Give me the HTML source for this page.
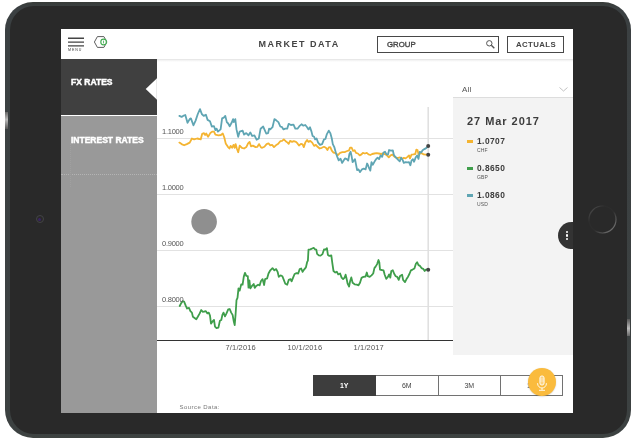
<!DOCTYPE html>
<html><head><meta charset="utf-8"><title>Market Data</title>
<style>
*{margin:0;padding:0;box-sizing:border-box}
html,body{width:637px;height:442px;background:#fff;overflow:hidden;font-family:"Liberation Sans",sans-serif}
.abs{position:absolute}
#tablet{position:absolute;left:5px;top:1.5px;width:626px;height:436.5px;border-radius:28px;background:linear-gradient(#373b38,#3b4042 6px,#3c4141 430px,#3e4341)}
#tabin{position:absolute;left:9.5px;top:6px;width:617px;height:427.5px;border-radius:24px;background:#292929}
#screen{position:absolute;left:61px;top:29px;width:512px;height:384px;background:#fff;overflow:hidden;will-change:transform;filter:opacity(0.9999)}
.t{position:absolute;white-space:nowrap;line-height:1}
.ylab{letter-spacing:-0.25px}
</style></head><body>
<div id="tablet"></div><div id="tabin"></div>
<!-- side buttons highlights -->
<div class="abs" style="left:5px;top:112px;width:3px;height:17px;background:linear-gradient(#666,#bbb 45%,#555)"></div>
<div class="abs" style="left:627px;top:319px;width:3px;height:17px;background:linear-gradient(#555,#bbb 55%,#666)"></div>
<!-- camera -->
<div class="abs" style="left:35.5px;top:215.4px;width:8px;height:8px;border-radius:50%;border:1.2px solid #434346"></div>
<div class="abs" style="left:38px;top:217.9px;width:3px;height:3px;border-radius:50%;background:#3a2366"></div>
<!-- home button -->
<svg class="abs" style="left:585px;top:202px" width="36" height="36" viewBox="0 0 36 36"><defs><linearGradient id="hb" x1="0" y1="0" x2="1" y2="1"><stop offset="0" stop-color="#5a5a5a"/><stop offset="0.3" stop-color="#2c2c2c"/><stop offset="0.55" stop-color="#2c2c2c"/><stop offset="1" stop-color="#8a8a8a"/></linearGradient></defs><circle cx="17.5" cy="17.5" r="13.5" fill="none" stroke="url(#hb)" stroke-width="1.2"/></svg>

<div id="screen">
  <!-- header -->
  <div class="abs" style="left:96px;top:30px;width:416px;height:3px;background:linear-gradient(#e2e2e2,#f4f4f4 50%,#fff)"></div>
  <svg class="abs" style="left:7px;top:7px" width="16" height="12" viewBox="0 0 16 12"><path d="M0 2.2 H16 M0 6.15 H16 M0 9.9 H16" stroke="#444" stroke-width="1.35"/></svg>
  <div class="t" style="left:7px;top:19.8px;font-size:3.6px;letter-spacing:0.9px;color:#3a3a3a">MENU</div>
  <svg class="abs" style="left:32px;top:6px" width="16" height="14" viewBox="0 0 16 14"><path d="M1.4 7 L4.4 1.6 H10.9 L13.9 7 L10.9 12.4 H4.4 Z" fill="none" stroke="#555" stroke-width="0.95"/><circle cx="10.6" cy="7" r="2.8" fill="#fff" stroke="#43ad52" stroke-width="1.15"/><rect x="10.2" y="5.6" width="0.8" height="2.8" fill="#43ad52"/></svg>
  <div class="t" style="left:197.5px;top:10.5px;font-size:9px;font-weight:bold;letter-spacing:1.5px;color:#444">MARKET DATA</div>
  <div class="abs" style="left:315.5px;top:7px;width:122px;height:17px;border:1.4px solid #484848"></div>
  <div class="t" style="left:326px;top:11.6px;font-size:7.8px;letter-spacing:0px;color:#444;-webkit-text-stroke:0.35px #444">GROUP</div>
  <svg class="abs" style="left:424px;top:10px" width="11" height="11" viewBox="0 0 11 11"><circle cx="4.3" cy="4.3" r="2.7" fill="none" stroke="#555" stroke-width="1"/><path d="M6.3 6.3 L9.3 9.3" stroke="#555" stroke-width="1.4"/></svg>
  <div class="abs" style="left:445.5px;top:7px;width:57.5px;height:17px;border:1.4px solid #484848"></div>
  <div class="t" style="left:455px;top:11.6px;font-size:7.8px;font-weight:bold;letter-spacing:0.4px;color:#444">ACTUALS</div>

  <!-- sidebar -->
  <div class="abs" style="left:0;top:29.8px;width:96px;height:56.7px;background:#404040"></div>
  <div class="abs" style="left:0;top:86.5px;width:96px;height:298px;background:#999"></div>
  <div class="abs" style="left:0;top:144.5px;width:96px;height:0;border-top:1px dotted #b4b4b4"></div>
  <div class="abs" style="left:9px;top:114px;width:0;height:44px;border-left:1px dotted #a0a0a0"></div>
  <div class="t" style="left:10px;top:48.7px;font-size:8.5px;font-weight:bold;color:#fff;letter-spacing:0.02px;-webkit-text-stroke:0.45px #fff">FX RATES</div>
  <div class="t" style="left:10px;top:106.7px;font-size:8.5px;font-weight:bold;color:#fff;letter-spacing:0px;-webkit-text-stroke:0.45px #fff">INTEREST RATES</div>
  <svg class="abs" style="left:84px;top:49px" width="12" height="22" viewBox="0 0 12 22"><path d="M12 0.3 L0.7 11 L12 21.7 Z" fill="#fff"/><path d="M11.6 1 V21" stroke="#d8d8d8" stroke-width="0.6"/></svg>

  <!-- chart -->
  <svg class="abs" style="left:-61px;top:-29px" width="637" height="442" viewBox="0 0 637 442">
    <g stroke="#e2e2e2" stroke-width="1">
      <path d="M157 138.5 H453 M157 194.5 H453 M157 250.5 H453 M157 306.5 H453"/>
    </g>
    <path d="M428.2 107 V340" stroke="#dfdfdf" stroke-width="1.5"/>
    <path d="M157 340.5 H453" stroke="#333" stroke-width="1.2"/>
    <circle cx="204.1" cy="221.7" r="12.8" fill="#8f8f8f"/>
    <g fill="none" stroke-width="1.8" stroke-linejoin="round" stroke-linecap="round">
      <path d="M179.4,142.6 L181.6,144.1 L184.1,145.3 L186.8,144.1 L189.7,142.6 L191.9,138.5 L194.1,139.4 L197.1,138.5 L199.3,139.0 L200.7,139.4 L202.2,133.8 L204,133.1 L205.1,135 L206.2,133.5 L208.1,136.8 L210.3,133.1 L212.5,131.6 L214,131.6 L215.4,134.6 L218.4,135.3 L220.9,135 L222.8,133.5 L224.3,137.5 L225.7,143.4 L227.9,146.8 L229.4,148.5 L230.6,145.9 L232.1,147.8 L233.5,144.9 L234.6,147.8 L235.6,144.1 L236.8,148.5 L238.2,152.2 L239.7,145.6 L241.9,147.8 L244.1,148.5 L246.3,147.1 L248.1,143.4 L249.6,141.9 L251,146.3 L252.9,145.6 L255.6,147.1 L257.4,146.8 L259.1,144.1 L261,147.4 L262.2,147.8 L264.4,146.8 L266.6,144.1 L268.5,143.4 L270.3,145.3 L272.1,144.9 L274,147.1 L275.9,145.3 L277.9,144.1 L280.3,141.2 L282.1,140.9 L283.8,139.4 L285.7,141.2 L287.6,142.6 L288.7,143.8 L290.1,140.9 L292.1,141.9 L293.8,141.2 L296,141.9 L297.5,143.4 L299,145.6 L300.9,143.8 L302.6,144.4 L303.8,147.1 L305.3,142.6 L307.1,140 L308.5,141.9 L310.3,140.9 L312.2,142.6 L314.1,145.9 L315.9,144.9 L317.6,146.8 L319.6,148.5 L321.8,147.8 L324,146.8 L325.9,147.8 L327.4,150 L328.8,147.4 L330.3,147.1 L331.8,150.7 L333.5,152.6 L335.7,153.2 L337.9,155.1 L340.1,152.9 L342.4,152.2 L344.6,152.2 L346.0,151.5 L347.2,151 L349.1,150.3 L350.1,147.6 L351.6,147.6 L353.1,151 L354.6,150.3 L356,152.9 L357.9,153.5 L359.7,155.4 L361.5,154.4 L362.9,152.9 L364.9,153.5 L366.8,152.9 L368.5,154.4 L370.3,155 L372.2,154 L374.4,153.5 L376.6,153.2 L378.8,153.5 L381,154 L383.2,153.5 L385.4,154.4 L387.4,155.9 L388.8,157.4 L390.6,155.4 L392.4,154.7 L394.3,156.5 L396.2,157.6 L398.2,157.9 L400.1,157.4 L402.1,158.8 L403.8,157.9 L405.6,158.4 L407.5,156.9 L409,155.4 L410,158.4 L411.5,154.7 L413.4,154.4 L415.3,154 L416.3,149.6 L417.5,150 L418.5,154.4 L420,153.5 L421.8,153.2 L423.7,154.4 L425.6,154.7 L428.1,154.7" stroke="#f4b431"/>
      <path d="M179.4,115.9 L181.6,116.9 L183.1,115.9 L185.3,115.0 L187.5,122.8 L189.7,119.1 L190.9,118.4 L193.4,125.3 L195.6,120.6 L197.8,114.0 L200,109.1 L201.8,114.0 L203.7,115.9 L205.9,114.7 L207.6,119.9 L210,121.3 L211.8,126.5 L214,126.2 L215.4,130.1 L216.6,128.7 L217.9,131.6 L220.6,129.4 L222.1,118.4 L223.8,117.6 L225.3,115.9 L226.8,122.1 L228.2,123.5 L229.7,126.2 L231.6,122.8 L233.1,119.1 L233.8,122.1 L235.3,119.1 L236.5,129.4 L238.2,136.8 L239.7,131.6 L242.6,130.6 L244.1,134.6 L246.3,133.1 L248.5,135.3 L250.3,132.4 L252.2,136.0 L254.4,135.3 L256.6,139.7 L258.8,138.5 L260.6,128.7 L263.2,126.5 L264.4,129.4 L266.2,133.5 L268.1,133.1 L269.1,128.7 L270.3,129.4 L272.5,127.2 L274.4,119.1 L276.5,120.6 L278.4,122.1 L280.3,126.5 L282.1,127.2 L283.5,129.4 L285.3,128.7 L287.2,128.7 L288.7,123.8 L290.9,125 L293.5,124.7 L295.3,128.7 L297.5,128.7 L299.4,126.2 L301.5,124.3 L303.4,125.7 L305.3,125 L307.1,127.2 L308.5,129.4 L310,127.2 L311.5,131.6 L312.6,136.0 L314.1,136.8 L315.1,139.4 L316.6,138.5 L318.1,142.6 L320,144.9 L322.1,144.1 L324,139.4 L325.4,139.0 L326.9,134.1 L328.8,130.6 L330.3,133.1 L331.8,138.5 L332.8,144.1 L334.3,147.1 L335.7,152.2 L337.2,156.6 L338.7,160.3 L340.6,158.8 L342.1,162.9 L343.8,160.3 L345,158.4 L346.8,159.1 L348.2,160.6 L349.4,154 L350.6,151.8 L351.6,156.2 L352.6,162.1 L353.8,160.6 L355,159.1 L356,164.3 L357.1,170.1 L358.5,169.4 L360,172.1 L361.9,169.4 L363.8,168.7 L365.6,169.4 L367.1,163.5 L368.2,165.7 L369.3,168.7 L370.3,170.6 L371.5,162.1 L372.9,164.7 L374.4,161.8 L376.2,159.1 L377.6,157.6 L379.1,159.1 L380.6,155.4 L382.1,156.9 L383.5,152.5 L385,151.8 L386.5,154.4 L387.9,154.7 L389.1,150 L390.9,150.6 L392.8,150.3 L393.8,154.7 L395.3,156.9 L396.8,158.4 L398.2,159.9 L399.7,161.3 L401.2,157.6 L402.6,159.9 L403.8,162.8 L405.6,162.1 L407.5,162.4 L409,162.1 L410.4,165.3 L411.5,160.6 L412.9,159.1 L414.1,161.8 L415.6,157.6 L417.1,155.4 L418.5,158.8 L419.7,151.8 L421.2,152.5 L422.6,150.3 L424.4,149.1 L426.2,148.1 L428.1,146.2" stroke="#5fa5b3"/>
      <path d="M179.7,306 L181.2,303.1 L182.6,301.2 L184.1,301.6 L185.6,305.3 L187.1,308.5 L189,307.9 L190.4,311.2 L191.9,312.6 L192.9,316.8 L194.9,318.2 L196.3,319.3 L197.8,316.8 L199.7,313.4 L201.2,310 L202.9,311.9 L204.4,311.5 L205.9,311.2 L207.4,313.4 L208.8,312.6 L210,315.6 L211,323.7 L212.5,321.5 L214,320 L215,326.6 L216.5,328.1 L218.4,327.6 L219.9,320.7 L221.3,320 L222.4,314.9 L223.5,312.6 L225,316.3 L226.5,313.4 L228.2,309.4 L229.7,309 L231.2,312.6 L232.6,314.9 L233.8,321.5 L234.7,325.1 L235.6,314.1 L236.5,300.1 L237.5,297.9 L238.5,288.4 L239.7,290.6 L241.2,284.4 L242.6,284.7 L243.8,276.6 L245,272.9 L246.3,275.9 L247.8,276.2 L248.5,287.6 L249.4,280.3 L250.3,288.4 L251.8,286.2 L253.7,284 L254.7,287.9 L256.2,285.9 L258.1,284.7 L259.6,285.4 L261,281 L262.6,279.1 L264.1,285 L265.1,279.1 L267.1,278.4 L268.5,273.5 L270.3,270.3 L272.5,268.1 L274.4,270.3 L276.2,269.1 L277.6,271.8 L278.8,276.9 L280.6,275.4 L282.4,276.2 L283.8,279.9 L285.3,283.8 L287.2,284.7 L288.7,279.9 L290.6,279.1 L291.6,281.3 L293.1,277.6 L294.6,274 L296.5,273.2 L298.2,273.5 L299.7,269.1 L301.2,268.5 L302.6,271.8 L304.1,269.6 L305.9,267.4 L307.1,262.2 L307.9,260.7 L308.5,249.7 L310.3,249.4 L312.2,248.5 L313.7,247.9 L315.1,249.4 L316.3,249.7 L317.1,253.8 L318.8,255.3 L320.6,255.6 L322.5,254.1 L324,249.4 L325.4,249.7 L326.9,248.2 L327.9,254.9 L329.4,255.9 L331.3,255.3 L332.4,263.7 L333.5,271 L335.3,272.5 L336.8,271.8 L338.2,274.4 L340.1,273.5 L341.6,277.6 L343.1,279.1 L344.6,277.6 L345.6,274.7 L346.2,276.9 L347.6,283.5 L349.1,286.5 L350.1,281.3 L351.3,277.4 L352.6,282.8 L354.6,284.3 L356.8,284.7 L358.5,285.3 L360,282.8 L361.5,277.9 L363.4,276.9 L365.6,276.5 L366.8,272.5 L367.8,276.2 L369.7,276.9 L371.5,275.4 L373.2,273.5 L374.4,268.1 L375.6,266.6 L377.1,264.1 L378.5,260 L379.3,262.2 L380,269.6 L381.8,270 L383.5,270.3 L384.7,274.7 L386.2,278.8 L387.9,276.9 L389.1,274.4 L390.3,277.6 L391.3,271 L392.8,270.3 L394.3,274 L395.7,276.2 L397.2,276.9 L398.7,279.9 L400.1,275.9 L402.1,274.7 L403.1,279.9 L405,282.1 L406.5,279.1 L407.9,276.9 L409.4,274 L410.9,270.3 L412.6,269.6 L414.4,268.5 L415.9,263.7 L417.1,262.2 L418.5,265.1 L420,265.9 L421.5,268.1 L423.2,268.8 L424.7,271 L425.9,269.6 L428.1,269.7" stroke="#3f9e4b"/>
    </g>
    <circle cx="428.2" cy="146" r="2" fill="#444"/>
    <circle cx="428.2" cy="154.7" r="2" fill="#444"/>
    <circle cx="428.2" cy="269.7" r="2" fill="#444"/>
  </svg>
  <div class="t ylab" style="left:101px;top:99px;font-size:7.5px;color:#555">1.1000</div>
  <div class="t ylab" style="left:101px;top:155px;font-size:7.5px;color:#555">1.0000</div>
  <div class="t ylab" style="left:101px;top:211px;font-size:7.5px;color:#555">0.9000</div>
  <div class="t ylab" style="left:101px;top:267px;font-size:7.5px;color:#555">0.8000</div>
  <div class="t" style="left:164.5px;top:315px;font-size:7.5px;color:#555;letter-spacing:0.15px">7/1/2016</div>
  <div class="t" style="left:226.5px;top:315px;font-size:7.5px;color:#555;letter-spacing:0.15px">10/1/2016</div>
  <div class="t" style="left:292.5px;top:315px;font-size:7.5px;color:#555;letter-spacing:0.15px">1/1/2017</div>
  <div class="t" style="left:118.5px;top:375px;font-size:6px;color:#777;letter-spacing:0.45px">Source Data:</div>

  <!-- right panel -->
  <div class="t" style="left:401px;top:57px;font-size:8px;color:#555;letter-spacing:0.2px">All</div>
  <svg class="abs" style="left:498px;top:58px" width="9" height="5" viewBox="0 0 9 5"><path d="M0.5 0.5 L4.5 4 L8.5 0.5" fill="none" stroke="#bbb" stroke-width="0.9"/></svg>
  <div class="abs" style="left:392px;top:68px;width:120px;height:1px;background:#ddd"></div>
  <div class="abs" style="left:391.5px;top:69px;width:120.5px;height:256.5px;background:#f3f3f3"></div>
  <div class="t" style="left:406px;top:86.5px;font-size:11px;font-weight:bold;color:#3c3c3c;letter-spacing:0.95px">27 Mar 2017</div>

  <div class="abs" style="left:406px;top:110.5px;width:6px;height:3px;background:#f4b431"></div>
  <div class="t" style="left:416px;top:107.7px;font-size:8.4px;font-weight:bold;color:#3c3c3c;letter-spacing:0.45px">1.0707</div>
  <div class="t" style="left:416px;top:118.5px;font-size:5px;color:#555;letter-spacing:0.2px">CHF</div>

  <div class="abs" style="left:406px;top:137.5px;width:6px;height:3px;background:#3f9e4b"></div>
  <div class="t" style="left:416px;top:134.7px;font-size:8.4px;font-weight:bold;color:#3c3c3c;letter-spacing:0.45px">0.8650</div>
  <div class="t" style="left:416px;top:145.5px;font-size:5px;color:#555;letter-spacing:0.2px">GBP</div>

  <div class="abs" style="left:406px;top:164.5px;width:6px;height:3px;background:#5fa5b3"></div>
  <div class="t" style="left:416px;top:161.7px;font-size:8.4px;font-weight:bold;color:#3c3c3c;letter-spacing:0.45px">1.0860</div>
  <div class="t" style="left:416px;top:172.5px;font-size:5px;color:#555;letter-spacing:0.2px">USD</div>

  <!-- more button -->
  <div class="abs" style="left:497px;top:193px;width:27px;height:27px;border-radius:50%;background:#333"></div>
  <div class="abs" style="left:504.8px;top:201.8px;width:2.4px;height:2.4px;border-radius:50%;background:#fff"></div>
  <div class="abs" style="left:504.8px;top:205.4px;width:2.4px;height:2.4px;border-radius:50%;background:#fff"></div>
  <div class="abs" style="left:504.8px;top:209.1px;width:2.4px;height:2.4px;border-radius:50%;background:#fff"></div>

  <!-- period buttons -->
  <div class="abs" style="left:252px;top:346px;width:250px;height:21px;border:1px solid #727272;background:#fff"></div>
  <div class="abs" style="left:252px;top:346px;width:62.5px;height:21px;background:#3d3d3d"></div>
  <div class="abs" style="left:376.5px;top:346px;width:1px;height:21px;background:#727272"></div>
  <div class="abs" style="left:439px;top:346px;width:1px;height:21px;background:#727272"></div>
  <div class="t" style="left:252px;top:352.5px;width:62.5px;text-align:center;font-size:7px;font-weight:bold;color:#fff">1Y</div>
  <div class="t" style="left:314.5px;top:352.5px;width:62.5px;text-align:center;font-size:7px;color:#444">6M</div>
  <div class="t" style="left:377px;top:352.5px;width:62.5px;text-align:center;font-size:7px;color:#444">3M</div>
  <div class="t" style="left:439.5px;top:352.5px;width:62.5px;text-align:center;font-size:7px;color:#444">1M</div>

  <!-- mic -->
  <div class="abs" style="left:467px;top:338.8px;width:27.8px;height:27.8px;border-radius:50%;background:#fabb3d;box-shadow:0 0.5px 1.5px rgba(0,0,0,0.2)"></div>
  <svg class="abs" style="left:473.7px;top:345px" width="14" height="18" viewBox="0 0 14 18"><rect x="4.9" y="1.9" width="4.2" height="9.2" rx="2.1" fill="rgba(255,255,255,0.35)" stroke="#fff" stroke-width="0.9"/><path d="M5 5 H9 M5 7 H9" stroke="#fff" stroke-width="0.6" opacity="0.8"/><path d="M2.6 9 V9.6 A4.4 4.4 0 0 0 11.4 9.6 V9 M7 14 V16 M4 16.3 H10" fill="none" stroke="#fff" stroke-width="0.9"/></svg>
</div>
</body></html>
